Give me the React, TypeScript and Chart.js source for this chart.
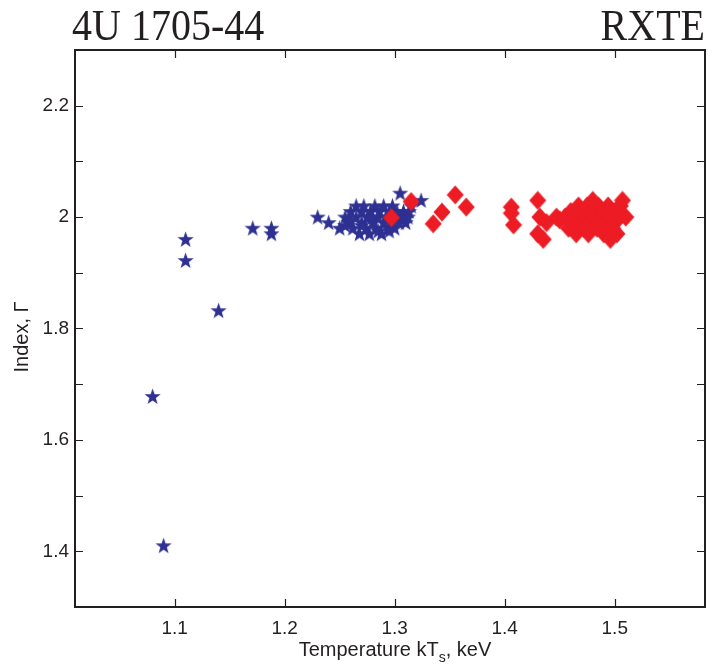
import React, { useEffect, useRef } from "react";
import { Chart, registerables } from "chart.js";
Chart.register(...registerables);

// Blue stars (temperature kTs, photon index)
const blueT = [1.08, 1.09, 1.11, 1.11, 1.14, 1.171, 1.188, 1.188, 1.23, 1.24,
  1.25, 1.255, 1.258, 1.26, 1.262, 1.265, 1.265, 1.268, 1.27, 1.27,
  1.272, 1.274, 1.275, 1.277, 1.278, 1.28, 1.282, 1.283, 1.285, 1.286,
  1.288, 1.29, 1.29, 1.292, 1.294, 1.295, 1.297, 1.298, 1.30, 1.30,
  1.302, 1.304, 1.305, 1.306, 1.308, 1.31, 1.312, 1.313, 1.315, 1.324,
  1.28, 1.27, 1.26, 1.285, 1.295, 1.255];
const blueG = [1.678, 1.41, 1.96, 1.922, 1.832, 1.98, 1.98, 1.97, 2.0, 1.99,
  1.98, 2.0, 1.99, 2.01, 1.98, 2.0, 2.02, 1.97, 1.99, 2.01,
  2.02, 1.98, 2.0, 1.97, 2.01, 1.99, 2.02, 1.98, 2.0, 2.01,
  1.97, 1.99, 2.02, 2.0, 1.98, 2.01, 1.99, 2.02, 2.0, 1.98,
  2.01, 1.99, 2.043, 2.0, 2.01, 1.99, 2.0, 2.01, 2.02, 2.03,
  2.0, 1.985, 1.995, 1.975, 1.975, 1.985];

// Red diamonds
const redT = [1.297, 1.315, 1.335, 1.343, 1.355, 1.365, 1.406, 1.406, 1.408,
  1.43, 1.432, 1.438, 1.43, 1.435,
  1.447, 1.45, 1.455, 1.458, 1.46, 1.462, 1.463, 1.465, 1.465, 1.467,
  1.47, 1.47, 1.472, 1.474, 1.475, 1.476, 1.477, 1.478, 1.48, 1.48,
  1.482, 1.484, 1.485, 1.486, 1.487, 1.488, 1.49, 1.49, 1.492, 1.494,
  1.495, 1.496, 1.497, 1.498, 1.50, 1.50, 1.502, 1.504, 1.505, 1.507, 1.51];
const redG = [1.999, 2.028, 1.988, 2.009, 2.04, 2.018, 2.018, 2.007, 1.986,
  2.03, 2.0, 1.99, 1.97, 1.96,
  2.0, 1.995, 2.0, 1.98, 2.01, 1.99, 1.995, 2.0, 1.97, 2.02,
  1.99, 2.01, 1.98, 2.0, 2.02, 1.97, 2.005, 1.99, 2.03, 2.01,
  2.0, 1.98, 2.02, 1.99, 2.015, 2.0, 2.01, 1.97, 1.99, 2.02,
  2.0, 1.96, 1.995, 1.98, 2.01, 1.99, 1.97, 2.0, 2.02, 2.03, 2.0];

const xTickValues = [1.1, 1.2, 1.3, 1.4, 1.5];
const yTickValues = [1.4, 1.5, 1.6, 1.7, 1.8, 1.9, 2.0, 2.1, 2.2];
const yLabelValues = [1.4, 1.6, 1.8, 2.0, 2.2];

const BLUE = "#2e3192";
const RED = "#ed1c24";
const INK = "#231f20";

function makeStar(): HTMLCanvasElement {
  const c = document.createElement("canvas");
  c.width = 19; c.height = 19;
  const g = c.getContext("2d")!;
  const cx = 9.5, cy = 10, R = 8.5, r = 3.4;
  g.beginPath();
  for (let i = 0; i < 10; i++) {
    const a = -Math.PI / 2 + (i * Math.PI) / 5;
    const rr = i % 2 === 0 ? R : r;
    const px = cx + rr * Math.cos(a), py = cy + rr * Math.sin(a);
    if (i === 0) g.moveTo(px, py); else g.lineTo(px, py);
  }
  g.closePath();
  g.fillStyle = BLUE;
  g.fill();
  return c;
}

function makeDiamond(): HTMLCanvasElement {
  const c = document.createElement("canvas");
  c.width = 18; c.height = 20;
  const g = c.getContext("2d")!;
  g.beginPath();
  g.moveTo(9, 0.5); g.lineTo(17.5, 10); g.lineTo(9, 19.5); g.lineTo(0.5, 10);
  g.closePath();
  g.fillStyle = RED;
  g.fill();
  return c;
}

const framePlugin = {
  id: "frame",
  afterDraw(chart: any) {
    const { ctx, chartArea } = chart;
    const { left, right, top, bottom } = chartArea;
    const x = chart.scales.x, y = chart.scales.y;
    ctx.save();
    ctx.strokeStyle = INK;
    ctx.lineWidth = 2;
    ctx.strokeRect(left, top, right - left, bottom - top);
    ctx.lineWidth = 1.2;
    ctx.beginPath();
    for (const v of xTickValues) {
      const px = Math.round(x.getPixelForValue(v)) + 0.5;
      ctx.moveTo(px, bottom); ctx.lineTo(px, bottom - 8);
      ctx.moveTo(px, top); ctx.lineTo(px, top + 8);
    }
    for (const v of yTickValues) {
      const py = Math.round(y.getPixelForValue(v)) + 0.5;
      ctx.moveTo(left, py); ctx.lineTo(left + 8, py);
      ctx.moveTo(right, py); ctx.lineTo(right - 8, py);
    }
    ctx.stroke();

    // titles
    ctx.fillStyle = INK;
    ctx.font = "40px 'Liberation Serif'";
    ctx.textBaseline = "alphabetic";
    ctx.save();
    ctx.translate(left - 3, 40);
    ctx.scale(1, 1.12);
    ctx.textAlign = "left";
    ctx.fillText("4U 1705-44", 0, 0);
    ctx.restore();
    ctx.save();
    ctx.translate(right, 40);
    ctx.scale(1, 1.12);
    ctx.textAlign = "right";
    ctx.fillText("RXTE", 0, 0);
    ctx.restore();

    // x axis title with subscript
    const big = "20px 'Liberation Sans'";
    const small = "14px 'Liberation Sans'";
    ctx.font = big;
    ctx.textAlign = "left";
    const p1 = "Temperature kT", p3 = ", keV";
    const w1 = ctx.measureText(p1).width;
    const w3 = ctx.measureText(p3).width;
    ctx.font = small;
    const w2 = ctx.measureText("s").width;
    const total = w1 + w2 + w3;
    const cx = (left + right) / 2 + 5;
    const base = 656;
    const sx = cx - total / 2;
    ctx.font = big;
    ctx.fillText(p1, sx, base);
    ctx.font = small;
    ctx.fillText("s", sx + w1, base + 6);
    ctx.font = big;
    ctx.fillText(p3, sx + w1 + w2, base);

    // y axis title
    ctx.save();
    ctx.translate(28, 337);
    ctx.rotate(-Math.PI / 2);
    ctx.textAlign = "center";
    ctx.fillText("Index, Γ", 0, 0);
    ctx.restore();
    ctx.restore();
  },
};

export default function App() {
  const ref = useRef<HTMLCanvasElement>(null);
  useEffect(() => {
    document.body.style.margin = "0";
    const star = makeStar();
    const diamond = makeDiamond();
    const chart = new Chart(ref.current!, {
      type: "scatter",
      data: {
        datasets: [
          {
            label: "red",
            data: redT.map((t, i) => ({ x: t, y: redG[i] })),
            pointStyle: diamond as any,
            pointRadius: 9,
            backgroundColor: RED,
            borderColor: RED,
          },
          {
            label: "blue",
            data: blueT.map((t, i) => ({ x: t, y: blueG[i] })),
            pointStyle: star as any,
            pointRadius: 9,
            backgroundColor: BLUE,
            borderColor: BLUE,
          },
        ],
      },
      options: {
        responsive: false,
        animation: false,
        layout: { padding: { left: 0, right: 7, top: 50, bottom: 0 } },
        plugins: { legend: { display: false }, tooltip: { enabled: false } },
        scales: {
          x: {
            type: "linear",
            min: 1.0095,
            max: 1.582,
            grid: { display: false, drawTicks: false },
            border: { display: false },
            afterBuildTicks: (s: any) => { s.ticks = xTickValues.map((v) => ({ value: v })); },
            afterFit: (s: any) => { s.height = 63; },
            ticks: {
              padding: 10,
              color: INK,
              font: { family: "'Liberation Sans'", size: 19 },
              callback: (v: any) => Number(v).toFixed(1),
            },
          },
          y: {
            type: "linear",
            min: 1.3,
            max: 2.3,
            grid: { display: false, drawTicks: false },
            border: { display: false },
            afterBuildTicks: (s: any) => { s.ticks = yTickValues.map((v) => ({ value: v })); },
            afterFit: (s: any) => { s.width = 75; },
            ticks: {
              padding: 6,
              color: INK,
              font: { family: "'Liberation Sans'", size: 19 },
              callback: (v: any) => {
                const n = Number(v);
                return yLabelValues.some((l) => Math.abs(l - n) < 1e-6) ? String(Number(n.toFixed(1))) : "";
              },
            },
          },
        },
      },
      plugins: [framePlugin],
    });
    return () => chart.destroy();
  }, []);
  return <canvas ref={ref} width={715} height={670} style={{ display: "block" }} />;
}
